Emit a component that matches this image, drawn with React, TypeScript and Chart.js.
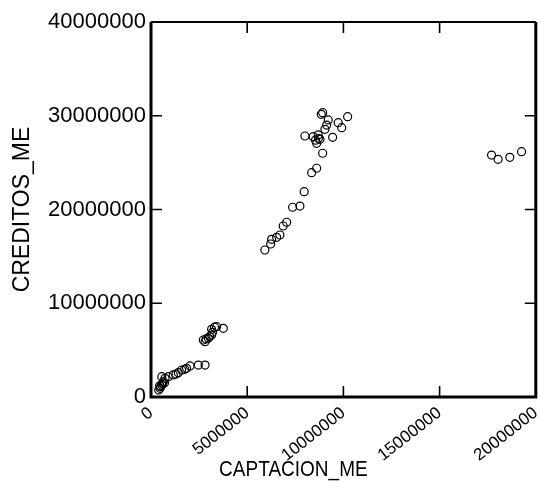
import React, { useEffect, useRef } from "react";
import { Chart, registerables } from "chart.js";

Chart.register(...registerables);

// CAPTACION_ME values (x)
const captacion = [
  8920000, 8850000, 9210000, 10220000, 9730000, 9910000, 9130000, 9040000,
  8000000, 8430000, 8690000, 8780000, 8610000, 8700000, 8550000, 9440000,
  8920000, 8610000, 8350000, 7960000, 7360000, 7740000, 7050000, 6870000,
  6700000, 6530000, 6270000, 6220000, 5920000,
  17700000, 18040000, 18650000, 19260000,
  3760000, 3410000, 3300000, 3150000, 3200000, 3150000, 3050000, 2980000,
  2860000, 2810000, 2720000, 2460000, 2810000, 2030000, 1850000, 1750000,
  1590000, 1420000, 1300000, 1160000, 900000, 730000, 560000, 640000,
  600000, 560000, 500000, 470000, 400000, 450000, 700000,
];

// CREDITOS_ME values (y)
const creditos = [
  30330000, 30150000, 29550000, 29900000, 29260000, 28730000, 29010000, 28550000,
  27840000, 27770000, 27950000, 27490000, 27060000, 27600000, 27400000, 27700000,
  26000000, 24400000, 23930000, 21900000, 20240000, 20370000, 18640000, 18240000,
  17280000, 17030000, 16820000, 16320000, 15680000,
  25810000, 25350000, 25570000, 26170000,
  7330000, 7500000, 7450000, 7220000, 6900000, 6610000, 6450000, 6260000,
  6190000, 5900000, 6080000, 3410000, 3410000, 3310000, 3060000, 2950000,
  2880000, 2590000, 2450000, 2350000, 2170000, 1990000, 2170000, 1630000,
  1450000, 1280000, 1100000, 930000, 750000, 1200000, 1500000,
];

const xTicks = [0, 5000000, 10000000, 15000000, 20000000];
const yTicks = [0, 10000000, 20000000, 30000000, 40000000];

const xTitle = "CAPTACION_ME";
const yTitle = "CREDITOS_ME";
const fontFamily = "'Liberation Sans', Arial, sans-serif";

// Frame around the plot with short inward tick marks on all four sides,
// plus the horizontal axis title drawn a little taller than wide.
const framePlugin = {
  id: "frame",
  afterDraw(chart: any) {
    const { ctx, chartArea: a, scales } = chart;
    const len = 11;
    ctx.save();
    ctx.strokeStyle = "#000";
    ctx.lineWidth = 1.6;
    xTicks.slice(1, -1).forEach((v) => {
      const px = scales.x.getPixelForValue(v);
      ctx.beginPath();
      ctx.moveTo(px, a.bottom);
      ctx.lineTo(px, a.bottom - len);
      ctx.moveTo(px, a.top);
      ctx.lineTo(px, a.top + len);
      ctx.stroke();
    });
    yTicks.slice(1, -1).forEach((v) => {
      const py = scales.y.getPixelForValue(v);
      ctx.beginPath();
      ctx.moveTo(a.left, py);
      ctx.lineTo(a.left + len, py);
      ctx.moveTo(a.right, py);
      ctx.lineTo(a.right - len, py);
      ctx.stroke();
    });
    ctx.lineWidth = 2;
    ctx.beginPath();
    ctx.moveTo(a.left, a.top);
    ctx.lineTo(a.right, a.top);
    ctx.stroke();
    ctx.lineWidth = 3;
    ctx.beginPath();
    ctx.moveTo(a.left, a.top);
    ctx.lineTo(a.left, a.bottom);
    ctx.lineTo(a.right, a.bottom);
    ctx.lineTo(a.right, a.top);
    ctx.stroke();

    // x axis title
    const xs = scales.x;
    ctx.fillStyle = "#000";
    ctx.font = `19px ${fontFamily}`;
    ctx.textAlign = "center";
    ctx.textBaseline = "middle";
    ctx.translate(xs.left + xs.width * 0.37, xs.bottom - 20);
    ctx.scale(1, 1.2);
    ctx.fillText(xTitle, 0, 0);
    ctx.restore();
  },
};

export default function App() {
  const canvasRef = useRef<HTMLCanvasElement>(null);

  useEffect(() => {
    if (!canvasRef.current) return;
    const points = captacion.map((x, i) => ({ x, y: creditos[i] }));
    const font = { family: fontFamily, size: 22 };
    const chart = new Chart(canvasRef.current, {
      type: "scatter",
      data: {
        datasets: [
          {
            data: points,
            pointStyle: "circle",
            pointRadius: 4,
            pointBorderWidth: 1.2,
            pointBorderColor: "#000",
            pointBackgroundColor: "rgba(0,0,0,0)",
          },
        ],
      },
      options: {
        animation: false,
        responsive: true,
        maintainAspectRatio: false,
        layout: { padding: { top: 22, right: 5, left: 0, bottom: 0 } },
        plugins: { legend: { display: false }, tooltip: { enabled: false } },
        scales: {
          x: {
            type: "linear",
            min: 0,
            max: 20000000,
            afterFit: (s: any) => {
              s.height = 93;
              s.paddingLeft = 0;
              s.paddingRight = 0;
            },
            afterBuildTicks: (s: any) => {
              s.ticks = xTicks.map((value) => ({ value }));
            },
            grid: { display: false, drawTicks: false },
            border: { display: false },
            ticks: {
              color: "#000",
              font: { ...font, size: 17 },
              minRotation: 38,
              maxRotation: 38,
              padding: 6,
              callback: (v: any) => String(v),
            },
          },
          y: {
            type: "linear",
            min: 0,
            max: 40000000,
            afterFit: (s: any) => {
              s.width = 151;
              s.paddingTop = 0;
              s.paddingBottom = 0;
            },
            afterBuildTicks: (s: any) => {
              s.ticks = yTicks.map((value) => ({ value }));
            },
            grid: { display: false, drawTicks: false },
            border: { display: false },
            ticks: {
              color: "#000",
              font,
              padding: 5,
              callback: (v: any) => String(v),
            },
            title: {
              display: true,
              text: yTitle,
              color: "#000",
              font: { ...font, size: 23 },
              padding: { top: 9, bottom: 0 },
            },
          },
        },
      },
      plugins: [framePlugin],
    });
    return () => chart.destroy();
  }, []);

  return (
    <div
      style={{
        position: "fixed",
        left: 0,
        top: 0,
        width: 541,
        height: 490,
        background: "#fff",
      }}
    >
      <canvas ref={canvasRef} />
    </div>
  );
}
